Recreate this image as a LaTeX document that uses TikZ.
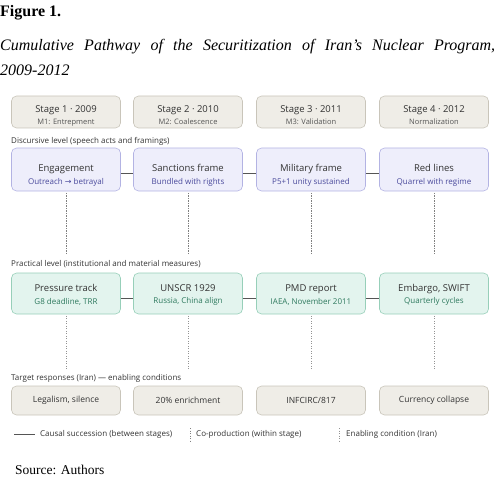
\documentclass[tikz,border=0pt]{standalone}
\usepackage{fontspec}
\setmainfont{Liberation Serif}
\newfontfamily\ui{Open Sans}
\newfontfamily\arr{DejaVu Sans}
\definecolor{stfill}{HTML}{EFEDE7}
\definecolor{stdraw}{HTML}{C9C5BA}
\definecolor{dfill}{HTML}{EEEEFB}
\definecolor{ddraw}{HTML}{B3B3E3}
\definecolor{dtext}{HTML}{4A4A9C}
\definecolor{pfill}{HTML}{E3F4EE}
\definecolor{pdraw}{HTML}{97CFB9}
\definecolor{ptext}{HTML}{2F7A5F}
\definecolor{txt}{HTML}{333333}
\definecolor{subc}{HTML}{555555}
\definecolor{conn}{HTML}{555555}
\definecolor{dotc}{HTML}{808080}
\newcommand\dn[2]{\raisebox{-#1}[\height][\depth]{#2}}
\newcommand\stsub[1]{{\fontsize{7.5}{9}\selectfont\color{subc}#1}}
\newcommand\dsub[1]{{\fontsize{8}{9}\selectfont\color{dtext}#1}}
\newcommand\psub[1]{{\fontsize{8}{9}\selectfont\color{ptext}#1}}
\newcommand\stc[2]{\dn{3.5pt}{#1}\\[1pt]\dn{3.5pt}{\stsub{#2}}}
\newcommand\dc[2]{\dn{6pt}{#1}\\[2.5pt]\dn{6pt}{\dsub{#2}}}
\newcommand\pc[2]{\dn{1.5pt}{#1}\\[1.5pt]\dn{1.5pt}{\psub{#2}}}
\begin{document}
\begin{tikzpicture}[x=1pt,y=-1pt,
  box/.style={rounded corners=5pt, minimum width=109pt, inner sep=0pt, align=center,
    font=\ui\fontsize{9.5}{11}\selectfont, text=txt, line width=0.6pt},
  stagebox/.style={box, fill=stfill, draw=stdraw, minimum height=32pt},
  discbox/.style={box, fill=dfill, draw=ddraw, minimum height=43pt},
  pracbox/.style={box, fill=pfill, draw=pdraw, minimum height=41pt},
  targbox/.style={box, fill=stfill, draw=stdraw, minimum height=29pt, font=\ui\fontsize{8.5}{10}\selectfont},
  lvl/.style={anchor=west, font=\ui\fontsize{8}{9}\selectfont, text=txt, inner sep=0pt},
  causal/.style={draw=conn, line width=0.7pt},
  coprod/.style={draw=dotc, line width=0.7pt, dash pattern=on 1.2pt off 1.3pt},
  enabling/.style={draw=dotc!85, line width=0.7pt, dash pattern=on 1pt off 1.5pt},
  serifhead/.style={anchor=base west, inner sep=0pt}
]
\useasboundingbox (0,0) rectangle (500,481);
% header
\node[serifhead, font=\fontsize{16}{19}\selectfont\bfseries] (fig) at (0,17) {Figure 1.};
\node[serifhead, font=\fontsize{16}{19}\selectfont\itshape] (t1) at (0,51)
  {\makebox[495pt][s]{Cumulative Pathway of the Securitization of Iran’s Nuclear Program,}};
\node[serifhead, font=\fontsize{16}{19}\selectfont\itshape] (t2) at (0,76) {2009-2012};
% stages
\node[stagebox] (s1) at (66,112) {\stc{Stage 1 · 2009}{M1: Entrepment}};
\node[stagebox] (s2) at (188,112) {\stc{Stage 2 · 2010}{M2: Coalescence}};
\node[stagebox] (s3) at (311,112) {\stc{Stage 3 · 2011}{M3: Validation}};
\node[stagebox] (s4) at (434,112) {\stc{Stage 4 · 2012}{Normalization}};
% discursive
\node[lvl] (ld) at (11,141) {Discursive level (speech acts and framings)};
\node[discbox] (d1) at (66,169.5) {\dc{Engagement}{Outreach {\arr →} betrayal}};
\node[discbox] (d2) at (188,169.5) {\dc{Sanctions frame}{Bundled with rights}};
\node[discbox] (d3) at (311,169.5) {\dc{Military frame}{P5+1 unity sustained}};
\node[discbox] (d4) at (434,169.5) {\dc{Red lines}{Quarrel with regime}};
% practical
\node[lvl] (lp) at (11,264) {Practical level (institutional and material measures)};
\node[pracbox] (p1) at (66,293.5) {\pc{Pressure track}{G8 deadline, TRR}};
\node[pracbox] (p2) at (188,293.5) {\pc{UNSCR 1929}{Russia, China align}};
\node[pracbox] (p3) at (311,293.5) {\pc{PMD report}{IAEA, November 2011}};
\node[pracbox] (p4) at (434,293.5) {\pc{Embargo, SWIFT}{Quarterly cycles}};
% target
\node[lvl] (lt) at (11,378) {Target responses (Iran) — enabling conditions};
\node[targbox] (r1) at (66,400.5) {Legalism, silence};
\node[targbox] (r2) at (188,400.5) {20\% enrichment};
\node[targbox] (r3) at (311,400.5) {INFCIRC/817};
\node[targbox] (r4) at (434,400.5) {Currency collapse};
% causal connectors
\foreach \a/\b in {d1/d2,d2/d3,d3/d4}
  \draw[causal] ([yshift=-3.5pt]\a.east) -- ([yshift=-3.5pt]\b.west);
\foreach \a/\b in {p1/p2,p2/p3,p3/p4}
  \draw[causal] ([yshift=-4.5pt]\a.east) -- ([yshift=-4.5pt]\b.west);
% co-production and enabling dotted
\foreach \n/\x in {1/66,2/188,3/311,4/434}{
  \coordinate (cd\n) at (\x,253);
  \draw[coprod] ([yshift=-1.5pt]d\n.south) -- (cd\n);
  \coordinate (cp\n) at (\x,369);
  \draw[enabling] ([yshift=-1.5pt]p\n.south) -- (cp\n);
}
% legend
\coordinate (la) at (14,434);
\coordinate (lb) at (35,434);
\draw[causal, line width=0.5pt] (la) -- (lb);
\node[lvl] (lg1) at (40,434) {Causal succession (between stages)};
\coordinate (lc1) at (190,428);
\coordinate (lc2) at (190,441);
\draw[coprod, line width=0.5pt] (lc1) -- (lc2);
\node[lvl] (lg2) at (196,434) {Co-production (within stage)};
\coordinate (le1) at (339,428);
\coordinate (le2) at (339,441);
\draw[enabling, line width=0.5pt] (le1) -- (le2);
\node[lvl] (lg3) at (346,434) {Enabling condition (Iran)};
% source
\node[serifhead, font=\fontsize{13.5}{16}\selectfont] (src) at (15,474) {Source: Authors};
\end{tikzpicture}
\end{document}
